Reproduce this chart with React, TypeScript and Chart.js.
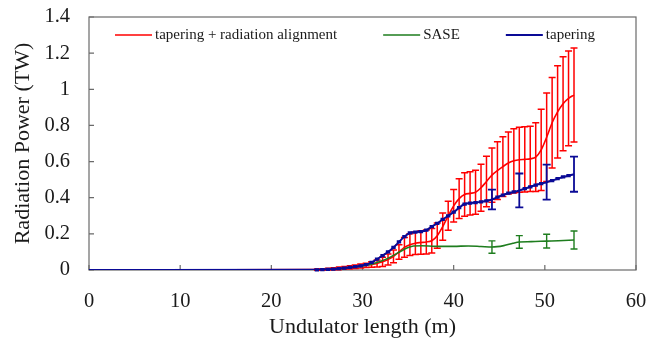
import React, { useEffect, useRef } from 'react';
import { Chart, registerables } from 'chart.js';

Chart.register(...registerables);

// x positions (m) shared by the "tapering + radiation alignment" and "tapering" series
const xGrid = [0, 25.0, 25.6, 26.2, 26.8, 27.4, 28.0, 28.6, 29.2, 29.8, 30.4, 31.0, 31.6, 32.2, 32.8, 33.4, 34.0, 34.6, 35.2, 35.8, 36.4, 37.0, 37.6, 38.2, 38.8, 39.4, 40.0, 40.6, 41.2, 41.8, 42.4, 43.0, 43.6, 44.2, 44.8, 45.4, 46.0, 46.6, 47.2, 47.8, 48.4, 49.0, 49.6, 50.2, 50.8, 51.4, 52.0, 52.6, 53.2];

const redMean = [0, 0.002, 0.003, 0.005, 0.007, 0.009, 0.012, 0.015, 0.018, 0.022, 0.026, 0.03, 0.036, 0.045, 0.058, 0.075, 0.1, 0.125, 0.14, 0.148, 0.152, 0.155, 0.162, 0.19, 0.24, 0.3, 0.355, 0.395, 0.418, 0.424, 0.43, 0.455, 0.49, 0.525, 0.55, 0.572, 0.592, 0.604, 0.61, 0.612, 0.615, 0.625, 0.665, 0.735, 0.815, 0.875, 0.92, 0.95, 0.968];
const redErr = [0, 0.003, 0.004, 0.005, 0.006, 0.007, 0.008, 0.009, 0.01, 0.011, 0.012, 0.015, 0.02, 0.025, 0.03, 0.035, 0.04, 0.055, 0.06, 0.062, 0.065, 0.066, 0.068, 0.07, 0.075, 0.08, 0.09, 0.11, 0.12, 0.12, 0.122, 0.13, 0.14, 0.15, 0.16, 0.165, 0.172, 0.178, 0.18, 0.18, 0.18, 0.19, 0.225, 0.245, 0.25, 0.255, 0.26, 0.262, 0.26];

const blueMean = [0, 0.001, 0.002, 0.003, 0.005, 0.008, 0.011, 0.014, 0.018, 0.023, 0.03, 0.042, 0.06, 0.08, 0.1, 0.125, 0.155, 0.185, 0.205, 0.21, 0.213, 0.22, 0.24, 0.258, 0.28, 0.3, 0.32, 0.345, 0.365, 0.37, 0.373, 0.377, 0.383, 0.39, 0.403, 0.415, 0.425, 0.432, 0.44, 0.45, 0.46, 0.47, 0.478, 0.486, 0.495, 0.505, 0.515, 0.522, 0.53];
const blueErr = [0, 0.004, 0.004, 0.004, 0.004, 0.004, 0.004, 0.004, 0.004, 0.004, 0.004, 0.004, 0.004, 0.004, 0.004, 0.004, 0.004, 0.004, 0.004, 0.004, 0.004, 0.004, 0.004, 0.004, 0.004, 0.004, 0.004, 0.004, 0.004, 0.004, 0.004, 0.004, 0.004, 0.055, 0.004, 0.004, 0.004, 0.004, 0.094, 0.004, 0.004, 0.004, 0.004, 0.097, 0.004, 0.004, 0.004, 0.004, 0.097];

// SASE series
const greenX = [0, 25, 26, 27, 28, 29, 30, 31, 32, 33, 34, 35, 35.6, 36.5, 38, 40, 41.6, 43, 44.2, 45.5, 46.5, 47.2, 48.5, 50.2, 51.5, 53.2];
const greenMean = [0, 0, 0.002, 0.005, 0.009, 0.015, 0.022, 0.032, 0.048, 0.07, 0.098, 0.124, 0.133, 0.134, 0.131, 0.131, 0.133, 0.13, 0.127, 0.135, 0.148, 0.155, 0.157, 0.16, 0.162, 0.166];
const greenErr = [0, 0, 0, 0, 0, 0, 0, 0, 0, 0, 0, 0, 0, 0, 0, 0, 0, 0, 0.034, 0, 0, 0.035, 0, 0.038, 0, 0.05];

const seriesLabels = ['tapering + radiation alignment', 'SASE', 'tapering'];
const seriesColors = ['#ff0000', '#1e7d1e', '#0a0a96'];

const xMin = 0, xMax = 60, xStep = 10;
const yMin = 0, yMax = 1.4, yStep = 0.2;

const SERIF = '"Liberation Serif", "Times New Roman", serif';
const TEXT = '#1a1a1a';
const AXIS = '#6a6a6a';

const toPoints = (xs: number[], ys: number[]) => xs.map((x, i) => ({ x, y: ys[i] }));

const errorBarPlugin = {
  id: 'errorBars',
  afterDatasetDraw(chart: any, args: any) {
    const ds: any = chart.data.datasets[args.index];
    const errs: number[] | undefined = ds.errors;
    if (!errs) return;
    const ctx = chart.ctx;
    const xs = chart.scales.x;
    const ys = chart.scales.y;
    ctx.save();
    ctx.strokeStyle = ds.borderColor;
    ctx.lineWidth = ds.errWidth || 1.5;
    ds.data.forEach((p: any, i: number) => {
      const e = errs[i];
      if (!e) return;
      const cap = e < 0.01 ? (ds.smallCap || 2.5) : (ds.capHalf || 3.5);
      const px = xs.getPixelForValue(p.x);
      const top = ys.getPixelForValue(p.y + e);
      const bot = ys.getPixelForValue(p.y - e);
      ctx.beginPath();
      ctx.moveTo(px, top);
      ctx.lineTo(px, bot);
      ctx.moveTo(px - cap, top);
      ctx.lineTo(px + cap, top);
      ctx.moveTo(px - cap, bot);
      ctx.lineTo(px + cap, bot);
      ctx.stroke();
    });
    ctx.restore();
  },
};

const framePlugin = {
  id: 'frame',
  beforeDatasetsDraw(chart: any) {
    const { ctx, chartArea: a, scales } = chart;
    ctx.save();
    ctx.strokeStyle = AXIS;
    ctx.lineWidth = 1.2;
    ctx.strokeRect(a.left, a.top, a.right - a.left, a.bottom - a.top);
    ctx.beginPath();
    scales.x.ticks.forEach((t: any) => {
      const px = scales.x.getPixelForValue(t.value);
      ctx.moveTo(px, a.bottom);
      ctx.lineTo(px, a.bottom - 5);
    });
    scales.y.ticks.forEach((t: any) => {
      const py = scales.y.getPixelForValue(t.value);
      ctx.moveTo(a.left, py);
      ctx.lineTo(a.left + 5, py);
    });
    ctx.stroke();
    ctx.restore();
  },
};

const legendPlugin = {
  id: 'insideLegend',
  afterDraw(chart: any) {
    const { ctx, chartArea: a } = chart;
    ctx.save();
    ctx.font = `15px ${SERIF}`;
    ctx.textBaseline = 'middle';
    ctx.fillStyle = TEXT;
    let x = a.left + 26;
    const y = a.top + 18;
    seriesLabels.forEach((label, i) => {
      ctx.strokeStyle = seriesColors[i];
      ctx.lineWidth = i === 2 ? 2 : 1.6;
      ctx.beginPath();
      ctx.moveTo(x, y);
      ctx.lineTo(x + 37, y);
      ctx.stroke();
      x += 40;
      ctx.fillText(label, x, y);
      x += ctx.measureText(label).width + 46;
    });
    ctx.restore();
  },
};

export default function App() {
  const ref = useRef<HTMLCanvasElement | null>(null);

  useEffect(() => {
    document.body.style.margin = '0';
    if (!ref.current) return;
    const chart = new Chart(ref.current, {
      type: 'line',
      data: {
        datasets: [
          {
            label: seriesLabels[2],
            data: toPoints(xGrid, blueMean),
            borderColor: seriesColors[2],
            borderWidth: 2,
            pointRadius: 0,
            cubicInterpolationMode: 'monotone',
            errors: blueErr,
            errWidth: 1.8,
            capHalf: 4,
            smallCap: 2.2,
          } as any,
          {
            label: seriesLabels[1],
            data: toPoints(greenX, greenMean),
            borderColor: seriesColors[1],
            borderWidth: 1.6,
            pointRadius: 0,
            cubicInterpolationMode: 'monotone',
            errors: greenErr,
            errWidth: 1.4,
            capHalf: 3.5,
          } as any,
          {
            label: seriesLabels[0],
            data: toPoints(xGrid, redMean),
            borderColor: seriesColors[0],
            borderWidth: 1.6,
            pointRadius: 0,
            cubicInterpolationMode: 'monotone',
            errors: redErr,
            errWidth: 1.5,
            capHalf: 3.5,
            smallCap: 3,
          } as any,
        ],
      },
      options: {
        animation: false,
        responsive: false,
        maintainAspectRatio: false,
        layout: { padding: { top: 17, right: 15, left: 0, bottom: 0 } },
        plugins: { legend: { display: false }, tooltip: { enabled: false } },
        scales: {
          x: {
            type: 'linear',
            min: xMin,
            max: xMax,
            grid: { display: false, drawTicks: false },
            border: { display: false },
            ticks: { stepSize: xStep, padding: 19, color: TEXT, font: { family: SERIF, size: 20.5 }, maxRotation: 0 },
            title: { display: true, text: 'Undulator length (m)', color: TEXT, font: { family: SERIF, size: 22 }, padding: { top: 0, bottom: 1 } },
            afterFit: (s: any) => { s.height = 71; s.paddingLeft = 0; s.paddingRight = 0; },
          },
          y: {
            type: 'linear',
            min: yMin,
            max: yMax,
            grid: { display: false, drawTicks: false },
            border: { display: false },
            ticks: {
              stepSize: yStep,
              padding: 19,
              color: TEXT,
              font: { family: SERIF, size: 20.5 },
              callback: (v: any) => String(Math.round(Number(v) * 10) / 10),
            },
            title: { display: true, text: 'Radiation Power (TW)', color: TEXT, font: { family: SERIF, size: 22 }, padding: { top: 10, bottom: 0 } },
            afterFit: (s: any) => { s.width = 89; s.paddingTop = 0; s.paddingBottom = 0; },
          },
        },
      } as any,
      plugins: [framePlugin, errorBarPlugin, legendPlugin],
    });
    return () => chart.destroy();
  }, []);

  return (
    <div style={{ width: 651, height: 341, background: '#fff' }}>
      <canvas ref={ref} width={651} height={341} />
    </div>
  );
}
